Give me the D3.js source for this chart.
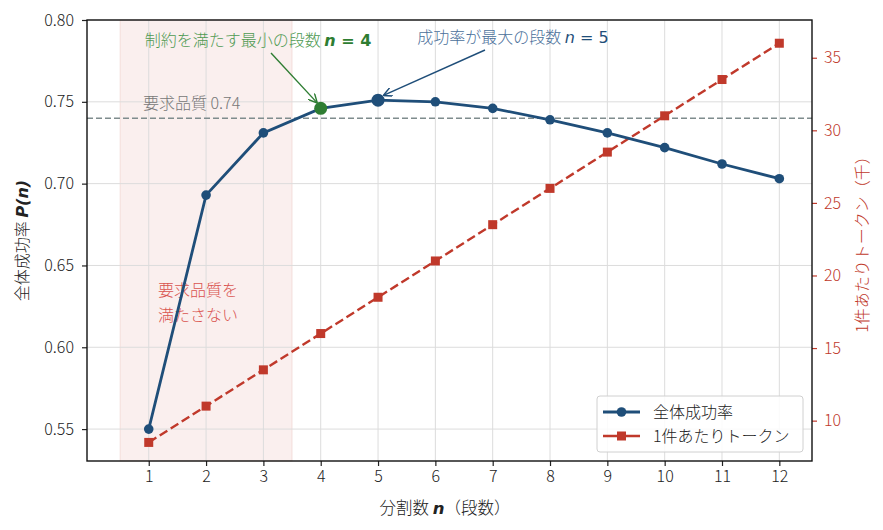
<!DOCTYPE html>
<html>
<head>
<meta charset="utf-8">
<script src="https://cdn.jsdelivr.net/npm/d3@7"></script>
<style>
  body { margin: 0; background: #fff; }
  svg text { font-family: "Noto Sans CJK JP", "Noto Sans", sans-serif; font-weight: 300; }
</style>
</head>
<body>
<main></main>
<script>
// data
const stages = [1, 2, 3, 4, 5, 6, 7, 8, 9, 10, 11, 12];
const successRate = [0.550, 0.693, 0.731, 0.746, 0.751, 0.750, 0.746, 0.739, 0.731, 0.722, 0.712, 0.703];
const tokensK = [8.5, 11.0, 13.5, 16.0, 18.5, 21.0, 23.5, 26.0, 28.5, 31.0, 33.5, 36.0];
const leftTicks = [0.55, 0.60, 0.65, 0.70, 0.75, 0.80];
const rightTicks = [10, 15, 20, 25, 30, 35];
const threshold = 0.74;
const failSpan = [0.5, 3.5];
const minStage = 4;
const bestStage = 5;

const size = { width: 883, height: 530 };
const plot = { left: 87, right: 812, top: 20, bottom: 461 };
const blue = '#1f4e79';
const red = '#c0392b';
const green = '#2e7d32';
const fs = 16;

const svg = d3.select('main').append('svg')
  .attr('width', size.width)
  .attr('height', size.height);

const x = d3.scaleLinear().domain([-0.077, 12.57]).range([plot.left, plot.right]);
const y = d3.scaleLinear().domain([0.5305, 0.80]).range([plot.bottom, plot.top]);
const y2 = d3.scaleLinear().domain([7.22, 37.6]).range([plot.bottom, plot.top]);

// shaded region where quality is not met
svg.append('rect')
  .attr('x', x(failSpan[0]))
  .attr('y', plot.top)
  .attr('width', x(failSpan[1]) - x(failSpan[0]))
  .attr('height', plot.bottom - plot.top)
  .attr('fill', '#c0392b')
  .attr('fill-opacity', 0.08)
  .attr('stroke', '#c0392b')
  .attr('stroke-opacity', 0.12);

// grid
svg.append('g').selectAll('line').data(stages).enter().append('line')
  .attr('x1', d => x(d)).attr('x2', d => x(d))
  .attr('y1', plot.top).attr('y2', plot.bottom)
  .attr('stroke', '#dcdcdc').attr('stroke-width', 1);
svg.append('g').selectAll('line').data(leftTicks).enter().append('line')
  .attr('x1', plot.left).attr('x2', plot.right)
  .attr('y1', d => y(d)).attr('y2', d => y(d))
  .attr('stroke', '#dcdcdc').attr('stroke-width', 1);

// threshold
svg.append('line')
  .attr('x1', plot.left).attr('x2', plot.right)
  .attr('y1', y(threshold)).attr('y2', y(threshold))
  .attr('stroke', '#7f8c8d').attr('stroke-width', 1.6)
  .attr('stroke-dasharray', '6,3');
svg.append('text')
  .attr('x', 143).attr('y', 109)
  .attr('font-size', fs).attr('fill', '#777')
  .text('要求品質 0.74');

svg.append('text').attr('font-size', fs).attr('fill', '#d9534f')
  .selectAll('tspan').data(['要求品質を', '満たさない']).enter().append('tspan')
  .attr('x', 158).attr('y', (d, i) => 296 + i * 25)
  .text(d => d);

// tokens line (right axis)
svg.append('path')
  .datum(stages)
  .attr('fill', 'none')
  .attr('stroke', red).attr('stroke-width', 2.4)
  .attr('stroke-dasharray', '9,4')
  .attr('d', d3.line().x(d => x(d)).y((d, i) => y2(tokensK[i])));
svg.append('g').selectAll('rect').data(stages).enter().append('rect')
  .attr('x', d => x(d) - 4.5)
  .attr('y', (d, i) => y2(tokensK[i]) - 4.5)
  .attr('width', 9).attr('height', 9)
  .attr('fill', red);

// success line (left axis)
svg.append('path')
  .datum(stages)
  .attr('fill', 'none')
  .attr('stroke', blue).attr('stroke-width', 2.8)
  .attr('d', d3.line().x(d => x(d)).y((d, i) => y(successRate[i])));
svg.append('g').selectAll('circle').data(stages).enter().append('circle')
  .attr('cx', d => x(d))
  .attr('cy', (d, i) => y(successRate[i]))
  .attr('r', d => (d === bestStage || d === minStage) ? 6.5 : 4.8)
  .attr('fill', d => d === minStage ? green : blue);

// annotations with arrows
const defs = svg.append('defs');
const marker = (id, color) => defs.append('marker')
  .attr('id', id).attr('viewBox', '0 0 10 10')
  .attr('refX', 9).attr('refY', 5)
  .attr('markerWidth', 9).attr('markerHeight', 9)
  .attr('markerUnits', 'userSpaceOnUse')
  .attr('orient', 'auto')
  .append('path').attr('d', 'M0,0 L10,5 L0,10').attr('fill', 'none')
  .attr('stroke', color).attr('stroke-width', 1.6);
marker('arrowGreen', green);
marker('arrowBlue', blue);

const iMin = stages.indexOf(minStage);
const iBest = stages.indexOf(bestStage);
svg.append('line')
  .attr('x1', 271).attr('y1', 53)
  .attr('x2', x(minStage) - 4).attr('y2', y(successRate[iMin]) - 6)
  .attr('stroke', green).attr('stroke-width', 1.4)
  .attr('marker-end', 'url(#arrowGreen)');
svg.append('line')
  .attr('x1', 485).attr('y1', 50)
  .attr('x2', x(bestStage) + 6).attr('y2', y(successRate[iBest]) - 5)
  .attr('stroke', blue).attr('stroke-width', 1.4)
  .attr('marker-end', 'url(#arrowBlue)');

const annGreen = svg.append('text').attr('x', 258).attr('y', 46)
  .attr('text-anchor', 'middle').attr('font-size', fs).attr('fill', '#4f9a52');
annGreen.append('tspan').text('制約を満たす最小の段数 ');
annGreen.append('tspan').attr('font-style', 'italic').attr('font-weight', 'bold')
  .attr('fill', green).attr('font-family', 'DejaVu Sans').text('n');
annGreen.append('tspan').attr('font-weight', 'bold').attr('fill', green)
  .attr('font-family', 'DejaVu Sans').text(' = 4');

const annBlue = svg.append('text').attr('x', 513).attr('y', 43)
  .attr('text-anchor', 'middle').attr('font-size', fs).attr('fill', '#4a6f9a');
annBlue.append('tspan').text('成功率が最大の段数 ');
annBlue.append('tspan').attr('font-style', 'italic').attr('fill', blue)
  .attr('font-family', 'DejaVu Sans').attr('font-weight', 'normal').text('n');
annBlue.append('tspan').attr('fill', blue).attr('font-weight', 'normal')
  .attr('font-family', 'DejaVu Sans').text(' = 5');

// axes
const styleAxis = (g, color) => {
  g.select('.domain').remove();
  g.selectAll('.tick line').attr('stroke', color).attr('stroke-width', 1.2);
  g.selectAll('.tick text').attr('fill', color).attr('font-size', fs)
    .attr('font-family', '"Noto Sans CJK JP", sans-serif');
};
svg.append('g')
  .attr('transform', `translate(0,${plot.bottom})`)
  .call(d3.axisBottom(x).tickValues(stages).tickSize(5).tickPadding(5).tickFormat(d3.format('d')))
  .call(g => styleAxis(g, '#222'));
svg.append('g')
  .attr('transform', `translate(${plot.left},0)`)
  .call(d3.axisLeft(y).tickValues(leftTicks).tickSize(5).tickPadding(8).tickFormat(d3.format('.2f')))
  .call(g => styleAxis(g, '#222'));
svg.append('g')
  .attr('transform', `translate(${plot.right},0)`)
  .call(d3.axisRight(y2).tickValues(rightTicks).tickSize(5).tickPadding(7))
  .call(g => styleAxis(g, red));

// frame
svg.append('rect')
  .attr('x', plot.left).attr('y', plot.top)
  .attr('width', plot.right - plot.left).attr('height', plot.bottom - plot.top)
  .attr('fill', 'none').attr('stroke', '#111').attr('stroke-width', 1.4);

// axis titles
const xTitle = svg.append('text')
  .attr('x', 445).attr('y', 514)
  .attr('text-anchor', 'middle').attr('font-size', 16.5).attr('fill', '#222');
xTitle.append('tspan').text('分割数 ');
xTitle.append('tspan').attr('font-style', 'italic').attr('font-weight', 'bold')
  .attr('font-family', 'DejaVu Sans').text('n');
xTitle.append('tspan').text('（段数）');

const yTitle = svg.append('text')
  .attr('transform', `translate(28,${(plot.top + plot.bottom) / 2}) rotate(-90)`)
  .attr('text-anchor', 'middle').attr('font-size', fs).attr('fill', '#222');
yTitle.append('tspan').text('全体成功率 ');
yTitle.append('tspan').attr('font-style', 'italic').attr('font-weight', 'bold')
  .attr('font-family', 'DejaVu Sans').text('P(n)');

svg.append('text')
  .attr('transform', `translate(868,${(plot.top + plot.bottom) / 2}) rotate(-90)`)
  .attr('text-anchor', 'middle').attr('font-size', fs).attr('fill', red)
  .text('1件あたりトークン（千）');

// legend
const legend = svg.append('g').attr('transform', 'translate(597,396)');
legend.append('rect')
  .attr('width', 206).attr('height', 56).attr('rx', 3)
  .attr('fill', '#fff').attr('fill-opacity', 0.85)
  .attr('stroke', '#d0d0d0');
const items = [
  { label: '全体成功率', color: blue, shape: 'circle' },
  { label: '1件あたりトークン', color: red, shape: 'square' }
];
items.forEach((it, i) => {
  const row = legend.append('g').attr('transform', `translate(0,${16 + i * 24})`);
  row.append('line').attr('x1', 6).attr('x2', 43).attr('y1', 0).attr('y2', 0)
    .attr('stroke', it.color).attr('stroke-width', it.shape === 'circle' ? 2.8 : 2.4);
  if (it.shape === 'circle') {
    row.append('circle').attr('cx', 24.5).attr('cy', 0).attr('r', 4.8).attr('fill', it.color);
  } else {
    row.append('rect').attr('x', 20).attr('y', -4.5).attr('width', 9).attr('height', 9).attr('fill', it.color);
  }
  row.append('text').attr('x', 56).attr('y', 6).attr('font-size', fs).attr('fill', '#222')
    .text(it.label);
});
</script>
</body>
</html>
